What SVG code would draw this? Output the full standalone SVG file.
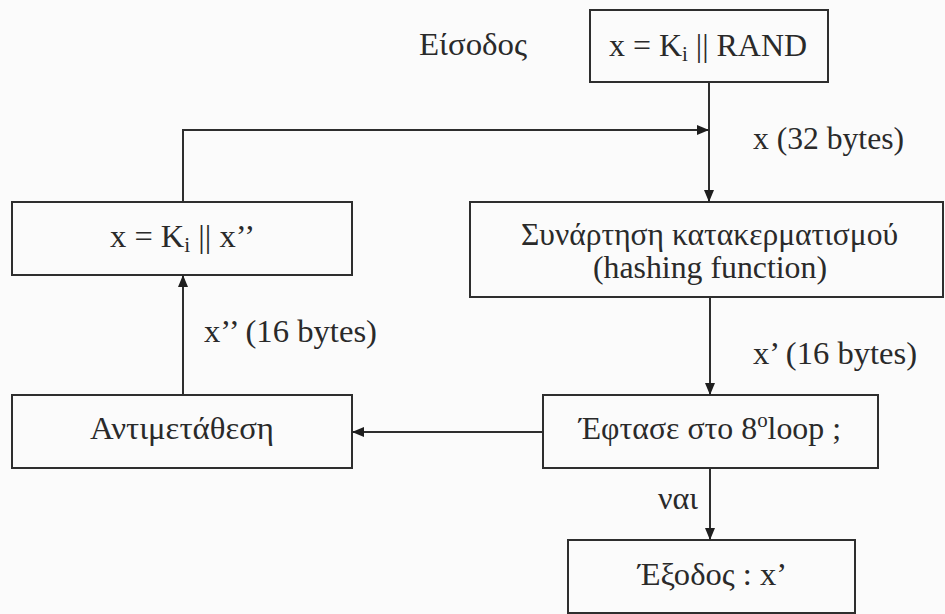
<svg xmlns="http://www.w3.org/2000/svg" width="945" height="614" viewBox="0 0 945 614" font-family="Liberation Serif, serif">
<defs>
<style>
.box{fill:none;stroke:#2e2e2e;stroke-width:2}
.ln{fill:none;stroke:#2e2e2e;stroke-width:2}
.t{font-size:32px;fill:#2a2a2a}
.sub{font-size:21px}
</style>
<marker id="ah" markerWidth="12" markerHeight="10" refX="12" refY="5" orient="auto" markerUnits="userSpaceOnUse">
<path d="M0,0 L12,5 L0,10 Z" fill="#1e1e1e"/>
</marker>
</defs>
<rect width="945" height="614" fill="#fbfbfb"/>
<g id="label-eisodos"><text class="t" font-family="Liberation Serif, serif" x="419" y="55" textLength="108" lengthAdjust="spacingAndGlyphs">Είσοδος</text></g>
<g id="node-input">
<rect class="box" x="590" y="10" width="238" height="72"/>
<text class="t" font-family="Liberation Serif, serif" x="609" y="56" textLength="198" lengthAdjust="spacingAndGlyphs">x = K<tspan class="sub" dy="5">i</tspan><tspan dy="-5"> || RAND</tspan></text>
</g>
<g id="node-hash">
<rect class="box" x="470" y="202" width="473" height="95"/>
<text class="t" font-family="Liberation Serif, serif" x="521" y="245" textLength="377" lengthAdjust="spacingAndGlyphs">Συνάρτηση κατακερματισμού</text>
<text class="t" font-family="Liberation Serif, serif" x="593" y="278" textLength="234" lengthAdjust="spacingAndGlyphs">(hashing function)</text>
</g>
<g id="node-loop">
<rect class="box" x="543" y="395" width="335" height="73"/>
<text class="t" font-family="Liberation Serif, serif" x="579" y="439" textLength="262" lengthAdjust="spacingAndGlyphs">Έφτασε στο 8<tspan class="sub" dy="-12">o</tspan><tspan dy="12">loop ;</tspan></text>
</g>
<g id="node-output">
<rect class="box" x="568" y="540" width="287" height="73"/>
<text class="t" font-family="Liberation Serif, serif" x="638" y="585" textLength="149" lengthAdjust="spacingAndGlyphs">Έξοδος : x’</text>
</g>
<g id="node-perm">
<rect class="box" x="12" y="395" width="340" height="73"/>
<text class="t" font-family="Liberation Serif, serif" x="90" y="439" textLength="184" lengthAdjust="spacingAndGlyphs">Αντιμετάθεση</text>
</g>
<g id="node-concat">
<rect class="box" x="12" y="202" width="340" height="73"/>
<text class="t" font-family="Liberation Serif, serif" x="110" y="247" textLength="145" lengthAdjust="spacingAndGlyphs">x = K<tspan class="sub" dy="5">i</tspan><tspan dy="-5"> || x’’</tspan></text>
</g>
<g id="connectors">
<path class="ln" d="M709,82 V202" marker-end="url(#ah)"/>
<path class="ln" d="M183,202 V130 H709" marker-end="url(#ah)"/>
<path class="ln" d="M710,297 V395" marker-end="url(#ah)"/>
<path class="ln" d="M543,432 H352" marker-end="url(#ah)"/>
<path class="ln" d="M183,395 V275" marker-end="url(#ah)"/>
<path class="ln" d="M710,468 V540" marker-end="url(#ah)"/>
<text class="t" font-family="Liberation Serif, serif" x="753" y="149" textLength="151" lengthAdjust="spacingAndGlyphs">x (32 bytes)</text>
<text class="t" font-family="Liberation Serif, serif" x="753" y="364" textLength="164" lengthAdjust="spacingAndGlyphs">x’ (16 bytes)</text>
<text class="t" font-family="Liberation Serif, serif" x="204" y="342" textLength="173" lengthAdjust="spacingAndGlyphs">x’’ (16 bytes)</text>
<text class="t" font-family="Liberation Serif, serif" x="658" y="509" textLength="40" lengthAdjust="spacingAndGlyphs">ναι</text>
</g>
</svg>
